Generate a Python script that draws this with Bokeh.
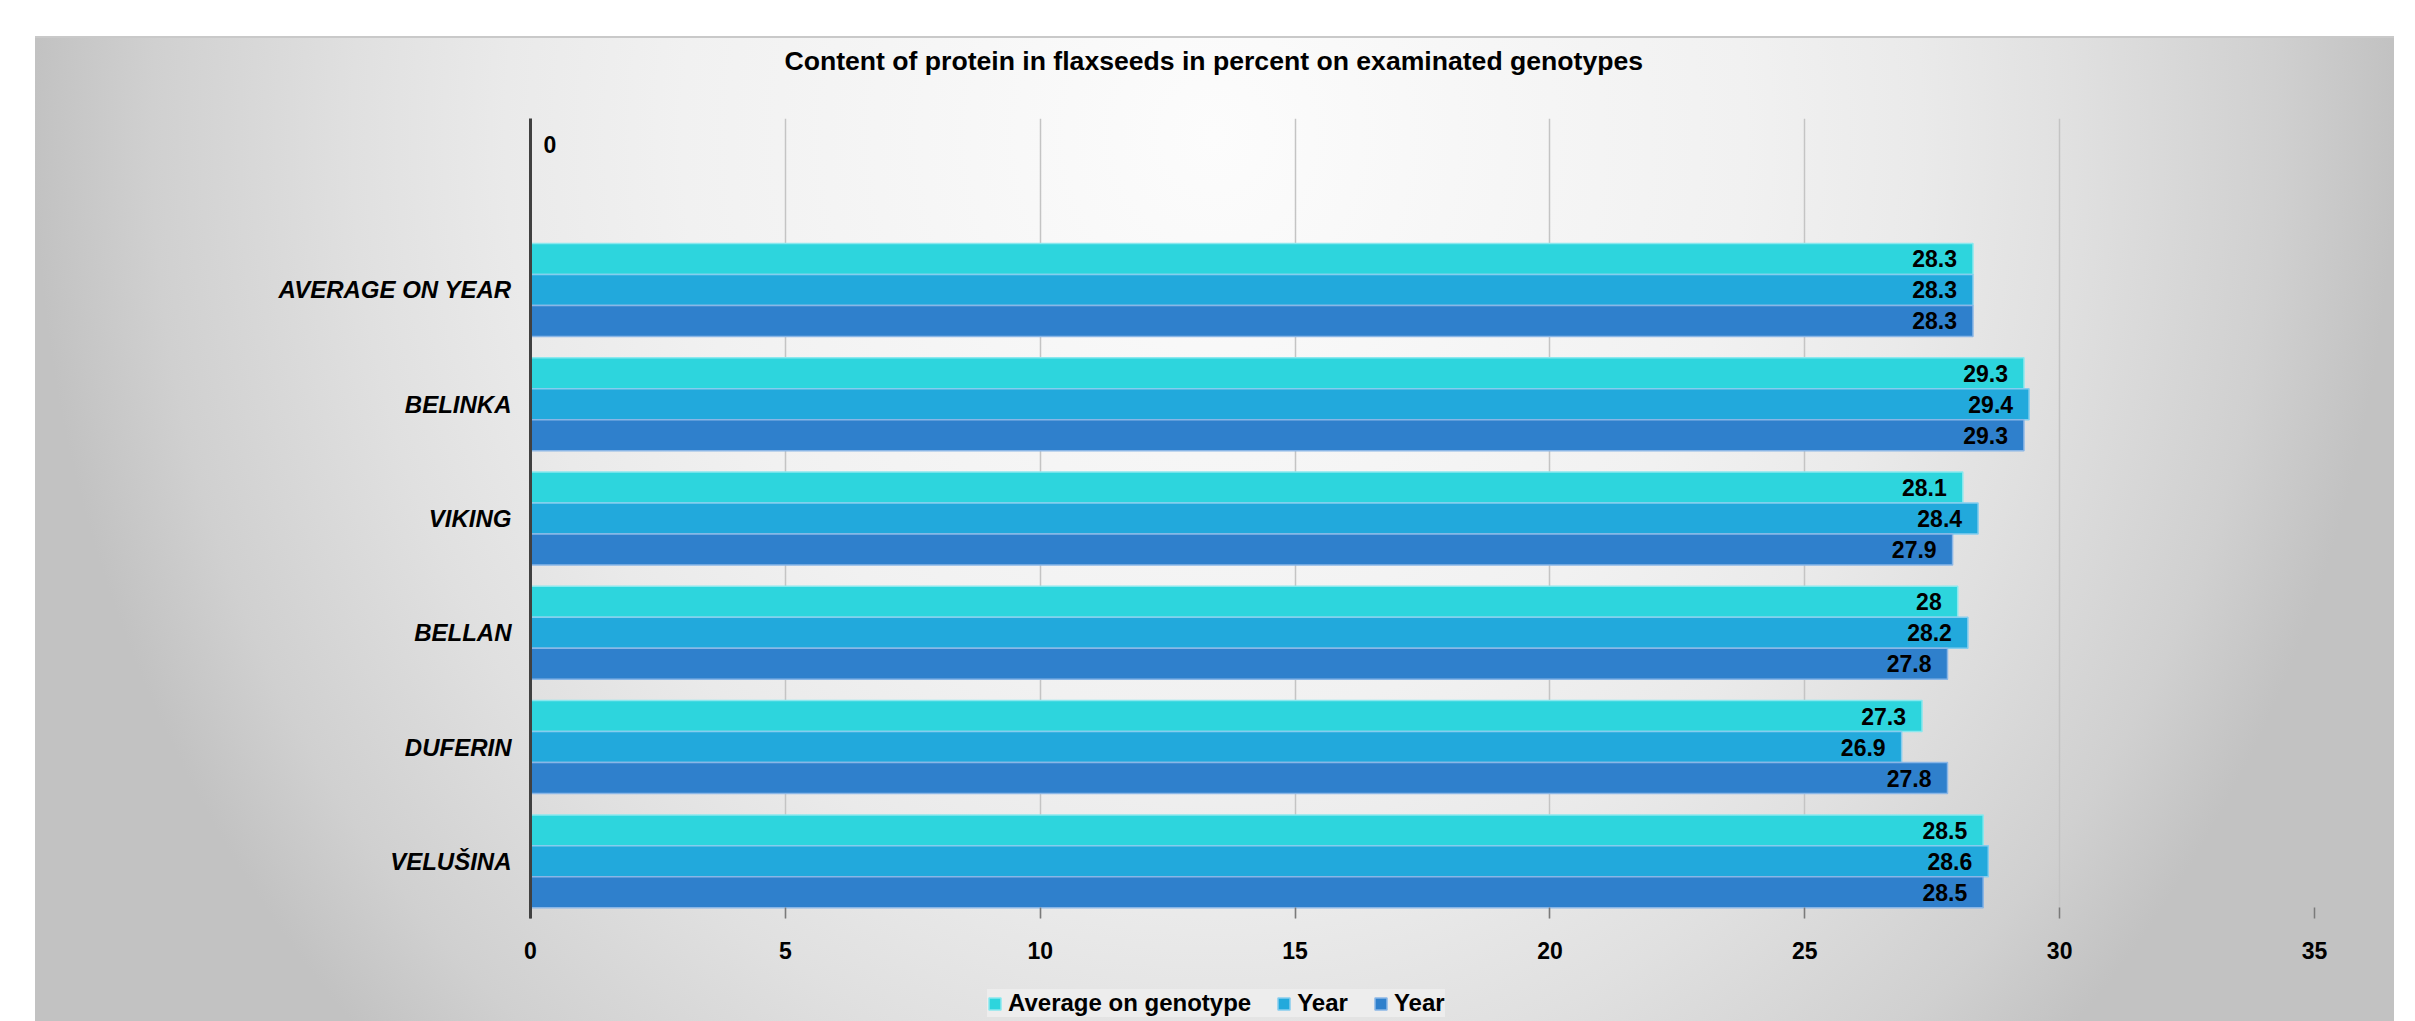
from bokeh.plotting import figure
from bokeh.layouts import column
from bokeh.models import ColumnDataSource, FactorRange, Range1d, Legend, LegendItem, Title, FixedTicker
from bokeh.transform import dodge
from bokeh.core.properties import value
from bokeh.embed import file_html
from bokeh.resources import INLINE

# ---------------- data ----------------
categories = ["AVERAGE ON YEAR", "BELINKA", "VIKING", "BELLAN", "DUFERIN", "VELUŠINA"]
avg_on_genotype = [28.3, 29.3, 28.1, 28.0, 27.3, 28.5]
year_first = [28.3, 29.4, 28.4, 28.2, 26.9, 28.6]
year_second = [28.3, 29.3, 27.9, 27.8, 27.8, 28.5]
series_names = ["Average on genotype", "Year", "Year"]
empty_slot = " "          # blank top category, only a 0 label in the first series
empty_slot_value = 0
x_tick_values = [0, 5, 10, 15, 20, 25, 30, 35]
title_text = "Content of protein in flaxseeds in percent on examinated genotypes"

# ---------------- styles ----------------
FONT = "Liberation Sans"
fills = ["#2dd5dd", "#22a9dc", "#2f80cc"]
edges = ["#8ae8ee", "#86cdee", "#8ab6e6"]
offsets = [0.271, 0.0, -0.271]
bar_h = 0.271

y_factors = list(reversed([empty_slot] + categories))

p = figure(width=2415, height=970, output_backend="svg", toolbar_location=None,
           y_range=FactorRange(factors=y_factors, range_padding=0),
           x_range=Range1d(0, 35),
           min_border_left=530, min_border_right=101, min_border_top=118, min_border_bottom=52,
           title=None)
p.background_fill_alpha = 0
p.border_fill_alpha = 0
p.outline_line_color = None

# separate strip under the chart that holds the legend (its range holds no data factor,
# so the series drawn there only feed the legend swatches)
leg = figure(width=2415, height=51, output_backend="svg", toolbar_location=None,
             y_range=FactorRange(factors=["legend strip"], range_padding=0),
             x_range=Range1d(0, 35), x_axis_location=None, y_axis_location=None,
             min_border=0, title=None)
leg.background_fill_alpha = 0
leg.border_fill_alpha = 0
leg.outline_line_color = None
leg.xgrid.grid_line_color = None
leg.ygrid.grid_line_color = None

series_values = [avg_on_genotype, year_first, year_second]
legend_renderers = []
for i, vals in enumerate(series_values):
    cats = list(categories)
    v = list(vals)
    if i == 0:
        cats = [empty_slot] + cats
        v = [empty_slot_value] + v
    labels = [f"{x:g}" for x in v]
    align = ["left" if x == 0 else "right" for x in v]
    xoff = [13 if x == 0 else -16 for x in v]
    src = ColumnDataSource(dict(cat=cats, val=v, label=labels, align=align, xoff=xoff))
    p.hbar(y=dodge("cat", offsets[i], range=p.y_range), right="val", left=0, height=bar_h,
           source=src, fill_color=fills[i], line_color=edges[i], line_width=1.5)
    p.text(x="val", y=dodge("cat", offsets[i], range=p.y_range), text="label", source=src,
           text_align="align", x_offset="xoff", text_baseline="middle", text_font=value(FONT),
           text_font_style="bold", text_font_size="23px", text_color="#000000")
    lr = leg.hbar(y="cat", right="val", left=0, height=bar_h,
                  source=src, fill_color=fills[i], line_color=edges[i], line_width=1.5)
    legend_renderers.append(lr)

# axes
p.xaxis.ticker = FixedTicker(ticks=x_tick_values)
p.xgrid.ticker = FixedTicker(ticks=x_tick_values)
p.xaxis.axis_line_color = None
p.xaxis.major_tick_in = 11
p.xaxis.major_tick_out = 0
p.xaxis.major_tick_line_color = "#7a7a7a"
p.xaxis.major_tick_line_width = 1.5
p.xaxis.minor_tick_line_color = None
p.xaxis.major_label_text_font = FONT
p.xaxis.major_label_text_font_style = "bold"
p.xaxis.major_label_text_font_size = "23px"
p.xaxis.major_label_text_color = "#000000"
p.xaxis.major_label_standoff = 23

p.yaxis.axis_line_color = "#404040"
p.yaxis.axis_line_width = 3
p.yaxis.major_tick_line_color = None
p.yaxis.minor_tick_line_color = None
p.yaxis.major_label_text_font = FONT
p.yaxis.major_label_text_font_style = "bold italic"
p.yaxis.major_label_text_font_size = "24px"
p.yaxis.major_label_text_color = "#000000"
p.yaxis.major_label_standoff = 13

p.ygrid.grid_line_color = None
p.xgrid.grid_line_color = "#c4c4c4"
p.xgrid.grid_line_width = 1.5

# title
t = Title(text=title_text, align="left", offset=254, vertical_align="bottom", standoff=86,
          text_font=FONT, text_font_style="bold", text_font_size="26.6px", text_color="#000000")
p.add_layout(t, "above")

# legend
legend = Legend(items=[LegendItem(label=series_names[i], renderers=[legend_renderers[i]]) for i in range(3)],
                orientation="horizontal", location=(457, 4),
                background_fill_color="#ededed", background_fill_alpha=1.0,
                border_line_color=None, padding=8, margin=0, spacing=25,
                glyph_width=15, glyph_height=15, label_standoff=6,
                label_text_font=FONT, label_text_font_style="bold", label_text_font_size="24px",
                label_text_color="#000000")
leg.add_layout(legend, "center")

layout = column(p, leg, spacing=0)
layout.styles = {
    "background": (
        "linear-gradient(#c9c9c9, #c9c9c9) 35px 36px / 2359px 2px no-repeat, "
        "radial-gradient(ellipse 1180px 1300px at 1179px 98px, #fcfcfc 0%, #f1f1f1 45%, "
        "#eaeaea 60%, #e0e0e0 73%, #d0d0d0 90%, #c2c2c2 100%) 35px 37px / 2359px 984px no-repeat, #ffffff"
    )
}

open("out.html", "w").write(file_html(layout, INLINE))
